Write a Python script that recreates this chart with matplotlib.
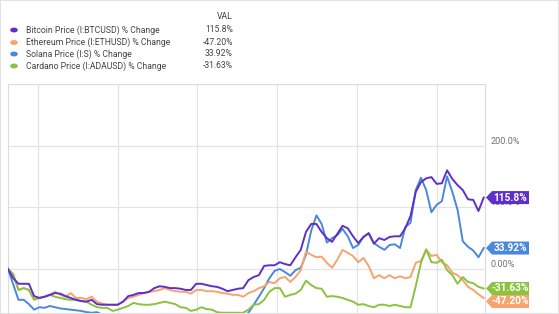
import numpy as np
import matplotlib
matplotlib.use('Agg')
import matplotlib.pyplot as plt
from matplotlib.patches import Polygon, Rectangle

plt.rcParams['font.family'] = ['Roboto', 'DejaVu Sans']

# dani od zacetka obdobja (vsake 4 dni)
days = np.arange(0, 365, 4)

btc = [0, -15, -24, -24, -24, -44, -47, -45, -42, -39, -40, -44, -47, -50, -52, -53,
       -50, -57, -58, -58, -58, -58, -53, -44, -42, -39, -39, -37, -31, -28, -29, -31,
       -31, -32, -34, -34, -24, -24, -26, -28, -29, -32, -36, -34, -32, -31, -18, -13,
       -10, 5, 6, 6, 11, 8, 6, 19, 31, 60, 73, 73, 60, 50, 44, 57, 70, 66, 53, 42, 52,
       58, 41, 50, 47, 52, 53, 53, 66, 86, 125, 141, 147, 149, 138, 139, 160, 146, 136,
       128, 113, 112, 94, 115.8]

eth = [0, -10, -34, -31, -34, -49, -47, -45, -42, -37, -42, -45, -39, -47, -47, -49,
       -45, -53, -56, -58, -58, -58, -53, -47, -45, -42, -39, -37, -36, -34, -31, -34,
       -36, -37, -37, -40, -34, -34, -36, -36, -37, -39, -40, -42, -42, -45, -39, -36,
       -31, -28, -21, -23, -15, -13, -21, -13, -2, 28, 23, 19, 20, 10, 2, 15, 31, 26,
       21, 11, 18, 5, -15, -10, -15, -10, -15, -12, -15, -13, 10, 13, 31, 21, 23, 11,
       6, -6, -10, -18, -29, -34, -41, -47.2]

sol = [0, -25, -50, -50, -57, -66, -62, -63, -60, -62, -64, -65, -66, -67, -68, -70,
       -71, -70, -74, -76, -78, -80, -79, -81, -82, -80, -81, -83, -80, -79, -80, -81,
       -82, -83, -84, -82, -81, -82, -83, -84, -85, -86, -85, -86, -84, -78, -71, -58,
       -45, -31, -15, -3, 0, -5, -11, -2, 2, 23, 62, 87, 73, 43, 50, 55, 65, 53, 34,
       39, 52, 58, 42, 36, 31, 39, 40, 34, 68, 75, 128, 148, 128, 92, 104, 110, 150,
       125, 96, 45, 36, 30, 19, 33.92]

ada = [0, -8, -34, -31, -34, -50, -47, -45, -42, -45, -47, -49, -50, -50, -52, -53,
       -58, -62, -63, -63, -68, -66, -63, -60, -55, -57, -58, -58, -57, -55, -53, -55,
       -57, -62, -63, -68, -66, -62, -65, -66, -70, -71, -71, -71, -71, -71, -66, -58,
       -57, -50, -37, -31, -31, -45, -42, -40, -34, -19, -26, -31, -32, -45, -44, -45,
       -47, -50, -53, -58, -57, -60, -62, -58, -58, -60, -58, -60, -62, -62, -28, 10,
       32, 11, 10, 15, -2, -10, -24, -13, -21, -23, -29, -31.63]

names = ['Bitcoin Price (I:BTCUSD) % Change', 'Ethereum Price (I:ETHUSD) % Change',
         'Solana Price (I:S) % Change', 'Cardano Price (I:ADAUSD) % Change']
vals = ['115.8%', '-47.20%', '33.92%', '-31.63%']
barve = ['#5f2fc9', '#f9a36f', '#4a88db', '#8ac33e']
serije = [btc, eth, sol, ada]

yticks = [0, 100, 200]
ylabels = ['0.00%', '100.0%', '200.0%']

W, H = 559, 314
fig = plt.figure(figsize=(W / 100, H / 100), dpi=100)
ax = fig.add_axes([8 / W, 0, 477 / W, 230 / H])

# risanje - solana pod ostalimi
for i in [2, 1, 3, 0]:
    ax.plot(days, serije[i], color=barve[i], lw=1.4, zorder=3 + (i == 0))

ax.set_xticks([23, 84, 145, 206, 267, 328])
ax.set_yticks([-100, 0, 100, 200, 300])
ax.set_xlim(0, 365)
ax.set_ylim(-73, 300)
ax.tick_params(length=0, labelbottom=False, labelleft=False)
ax.grid(True, color='#e4e4e4', lw=0.9)
for s in ['left', 'top', 'right']:
    ax.spines[s].set_color('#dcdcdc')
ax.spines['bottom'].set_visible(False)

for v, t in zip(yticks, ylabels):
    ax.annotate(t, (1.0, v), xycoords=ax.get_yaxis_transform(), xytext=(4, 1.5),
                textcoords='offset points', ha='left', va='baseline', fontsize=6.5,
                color='#707070', annotation_clip=False)

# oznake zadnje vrednosti
def px(x, y):
    return (x / W, 1 - y / H)

def ypx(v):
    return ax.transData.transform((0, v))[1]

polozaji = [float(btc[-1]), float(eth[-1]), float(sol[-1]), float(ada[-1])]
ycent = [H - ypx(v) for v in polozaji]
ycent[1] = max(ycent[1], ycent[3] + 13)
for i in range(4):
    yc = ycent[i]
    pts = [px(486, yc), px(492, yc - 6.5), px(529, yc - 6.5), px(529, yc + 6.5), px(492, yc + 6.5)]
    fig.add_artist(Polygon(pts, closed=True, transform=fig.transFigure,
                           facecolor=barve[i], edgecolor='none', zorder=10))
    fig.text(510 / W, 1 - yc / H, vals[i], ha='center', va='center', color='white',
             fontsize=7.3, fontweight='bold', zorder=11)

# legenda
fig.text(233 / W, 1 - 16.5 / H, 'VAL', ha='right', va='center', fontsize=6.2, color='#444444')
ry = [30, 42.5, 54, 66]
for i in range(4):
    fig.add_artist(plt.Circle(px(14, ry[i]), 0.0055, transform=fig.transFigure,
                              color=barve[i]))
    fig.text(26.5 / W, 1 - ry[i] / H, names[i], ha='left', va='center', fontsize=6.2,
             color='#444444')
    fig.text(233 / W, 1 - ry[i] / H, vals[i], ha='right', va='center', fontsize=6.2,
             color='#444444')

fig.add_artist(Rectangle((0, 0), 1, 1, transform=fig.transFigure, fill=False,
                         edgecolor='#e2e2e2', lw=1.5))

fig.savefig('out.png', dpi=100)
